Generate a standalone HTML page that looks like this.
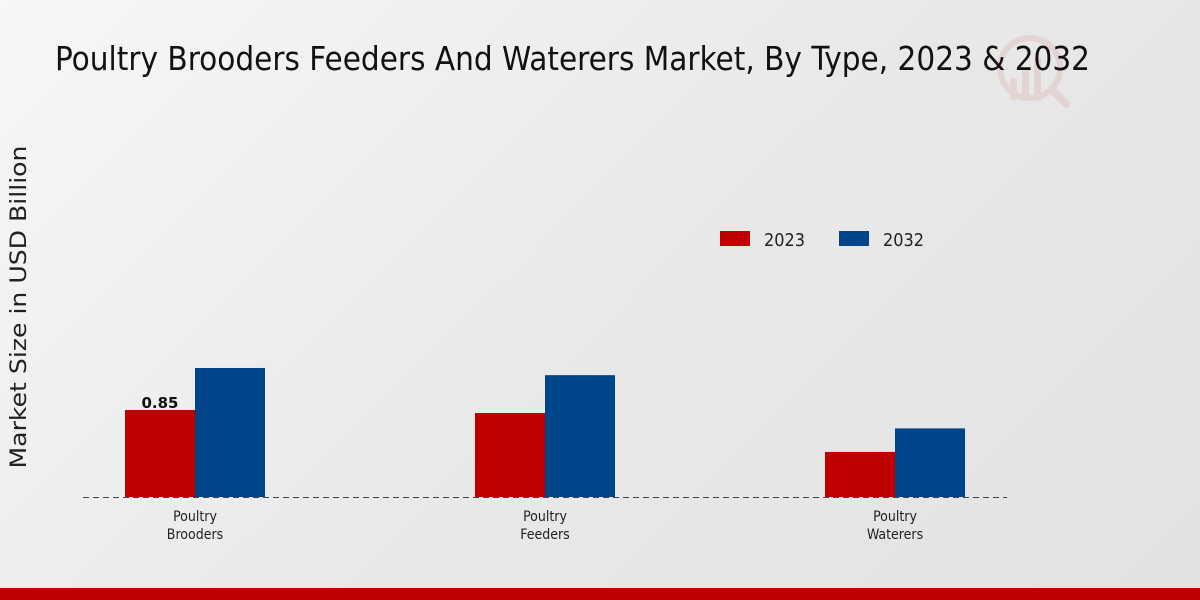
<!DOCTYPE html>
<html>
<head>
<meta charset="utf-8">
<style>
  html,body{margin:0;padding:0;}
  body{width:1200px;height:600px;overflow:hidden;background:linear-gradient(135deg,#f7f7f7 0%,#e9e9e9 50%,#e2e2e2 100%);font-family:"DejaVu Sans","Liberation Sans",sans-serif;}
  svg{display:block;}
</style>
</head>
<body>
<svg id="chart" width="1200" height="600">
  <g opacity="0.08">
    <circle cx="1030" cy="68" r="30" fill="none" stroke="#c00000" stroke-width="6"/>
    <rect x="1010" y="78" width="7" height="22" fill="#c00000"/>
    <rect x="1022" y="68" width="7" height="32" fill="#c00000"/>
    <rect x="1034" y="58" width="7" height="42" fill="#c00000"/>
    <line x1="1052" y1="90" x2="1066" y2="104" stroke="#c00000" stroke-width="8" stroke-linecap="round"/>
  </g>
  <text x="55" y="70" font-size="33" font-family="DejaVu Sans Condensed, DejaVu Sans, sans-serif" fill="#111" textLength="1035" lengthAdjust="spacingAndGlyphs">Poultry Brooders Feeders And Waterers Market, By Type, 2023 &amp; 2032</text>
  <text transform="translate(26,307) rotate(-90)" text-anchor="middle" font-size="22" fill="#222" textLength="323" lengthAdjust="spacingAndGlyphs">Market Size in USD Billion</text>
  <g>
    <rect x="720" y="231" width="30" height="15" fill="#c00000"/>
    <text x="764" y="246" font-size="18" fill="#222" textLength="41" lengthAdjust="spacingAndGlyphs">2023</text>
    <rect x="839" y="231" width="30" height="15" fill="#004589"/>
    <text x="883" y="246" font-size="18" fill="#222" textLength="41" lengthAdjust="spacingAndGlyphs">2032</text>
  </g>
  <g id="bars"></g>
  <line x1="83" y1="497.5" x2="1007" y2="497.5" stroke="#444" stroke-width="1" stroke-dasharray="6,4"/>
  <g id="labels"></g>
  <rect x="0" y="588" width="1200" height="12" fill="#c00000"/>
</svg>
<script>
const categories = [["Poultry","Brooders"],["Poultry","Feeders"],["Poultry","Waterers"]];
const values2023 = [0.85, 0.82, 0.44];
const values2032 = [1.26, 1.19, 0.67];
const seriesColors = ["#c00000", "#004589"];
const NS = "http://www.w3.org/2000/svg";
const baseY = 497, pxPerUnit = 102.4, firstCenter = 195, spacing = 350, barW = 70;
function yScale(v){ return baseY - v * pxPerUnit; }
function xCenter(i){ return firstCenter + i * spacing; }
const bars = document.getElementById('bars');
const labels = document.getElementById('labels');
[values2023, values2032].forEach((series, s) => {
  series.forEach((v, i) => {
    const r = document.createElementNS(NS, 'rect');
    const x = s === 0 ? xCenter(i) - barW : xCenter(i);
    r.setAttribute('x', x);
    r.setAttribute('y', yScale(v));
    r.setAttribute('width', barW);
    r.setAttribute('height', baseY - yScale(v));
    r.setAttribute('fill', seriesColors[s]);
    
    
    bars.appendChild(r);
  });
});
const vl = document.createElementNS(NS, 'text');
vl.setAttribute('x', xCenter(0) - barW / 2);
vl.setAttribute('y', yScale(values2023[0]) - 2);
vl.setAttribute('text-anchor', 'middle');
vl.setAttribute('font-size', '15');
vl.setAttribute('font-weight', 'bold');
vl.setAttribute('fill', '#111');
vl.textContent = values2023[0].toFixed(2);


labels.appendChild(vl);
categories.forEach((c, i) => {
  c.forEach((line, j) => {
    const t = document.createElementNS(NS, 'text');
    t.setAttribute('x', xCenter(i));
    t.setAttribute('y', 521 + j * 18);
    t.setAttribute('text-anchor', 'middle');
    t.setAttribute('font-size', '14');
    t.setAttribute('font-family', 'DejaVu Sans Condensed, DejaVu Sans, sans-serif');
    t.setAttribute('fill', '#222');
    t.textContent = line;
    
    
    labels.appendChild(t);
  });
});
</script>
</body>
</html>
